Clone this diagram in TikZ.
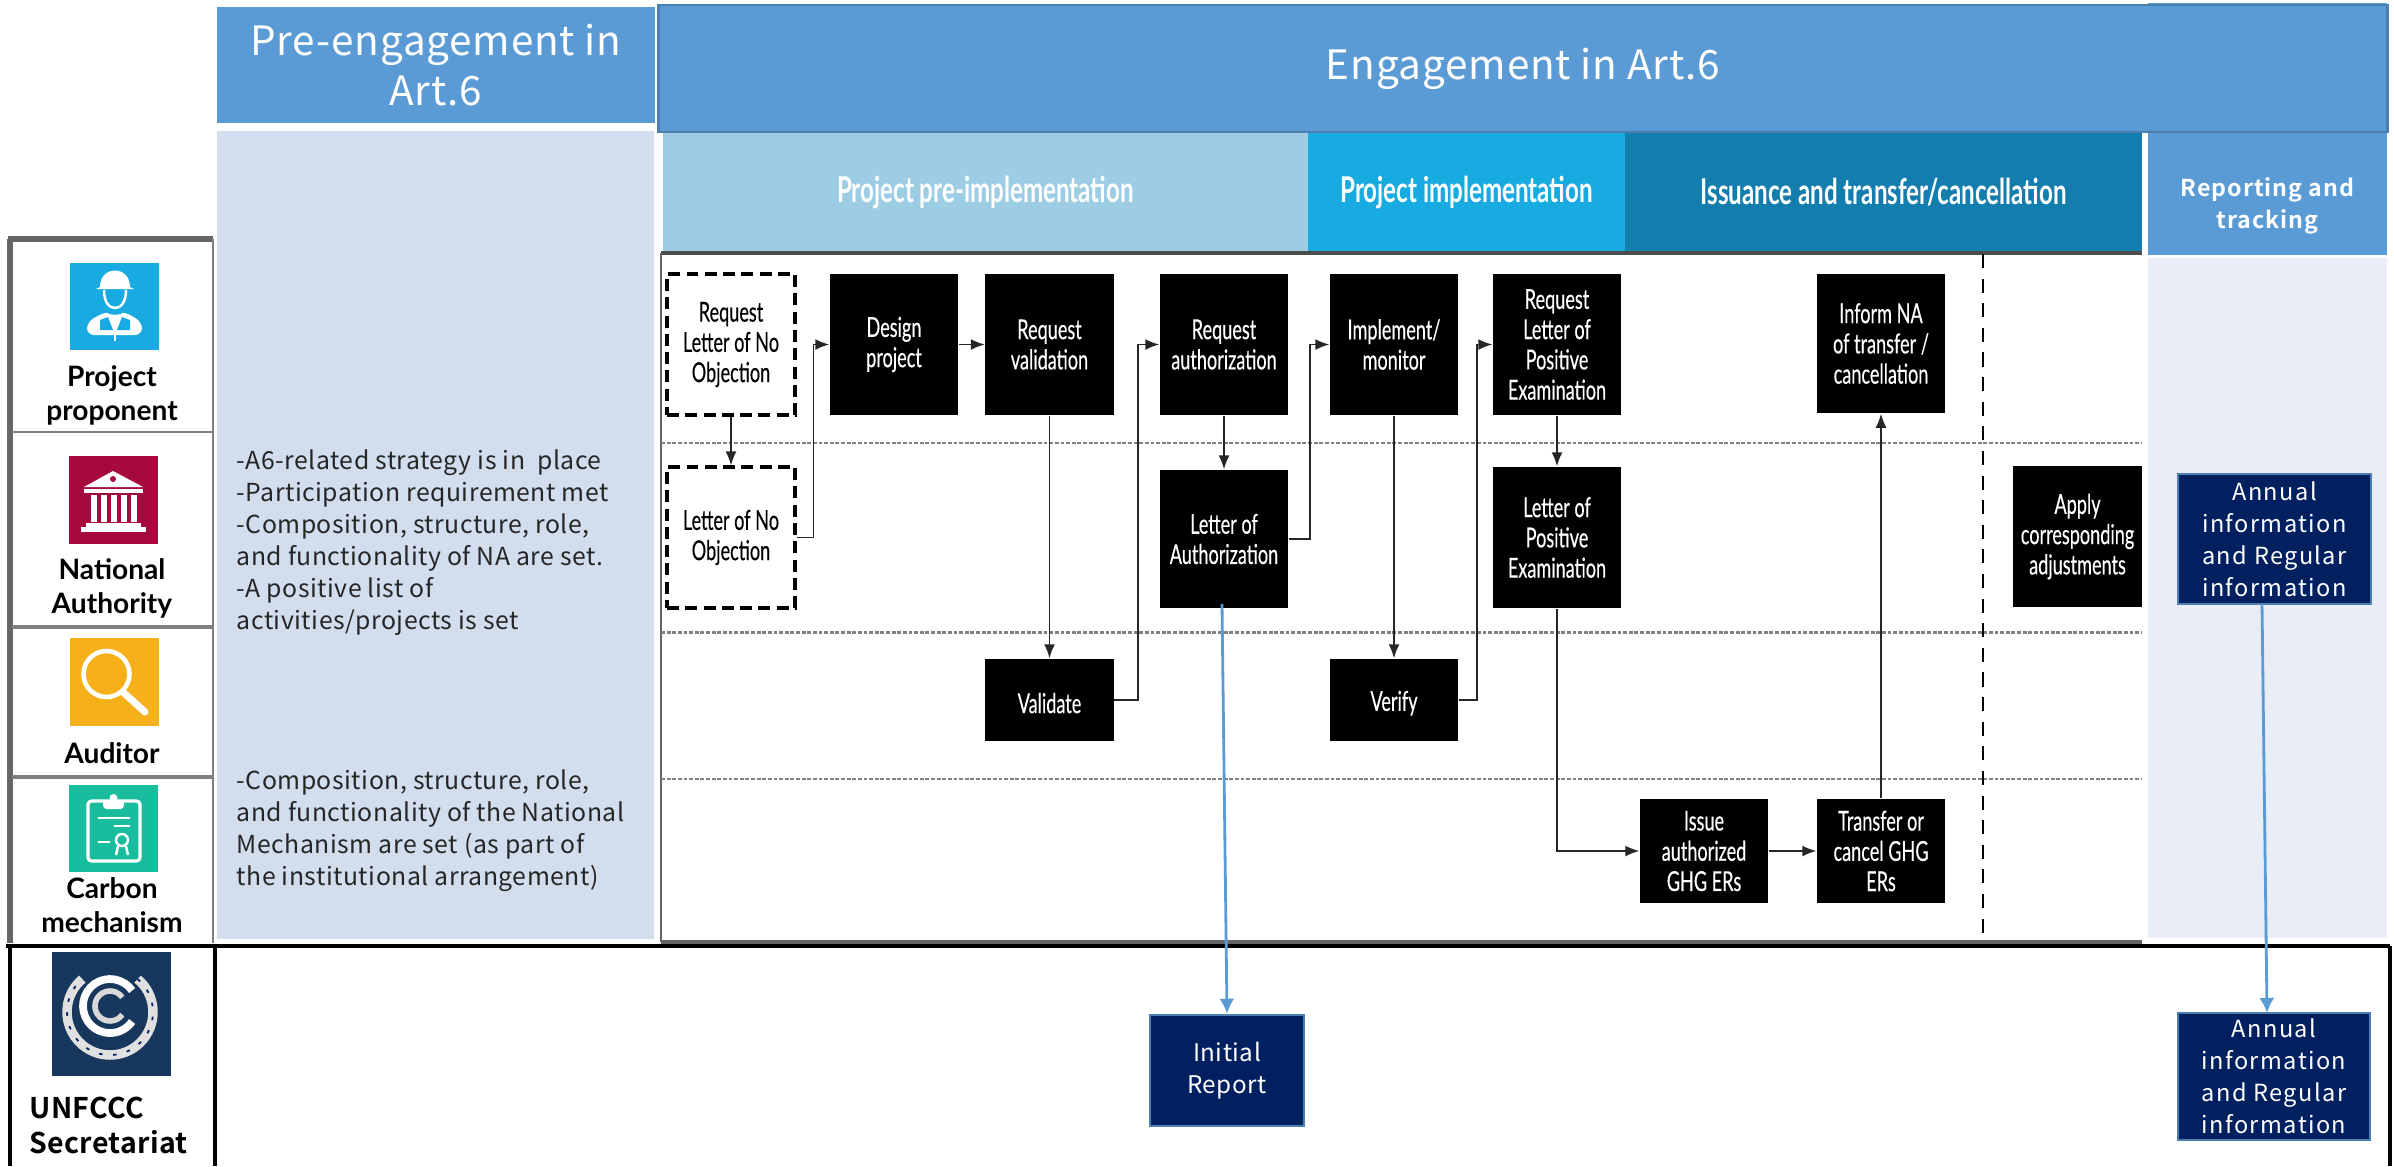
\documentclass[tikz,border=0pt]{standalone}
\usepackage{fontspec}
\usetikzlibrary{arrows.meta}
\setmainfont{Lato}
\newfontfamily\boxfont[FakeStretch=0.66,FakeBold=0.3]{Lato}
\newfontfamily\headfont[FakeStretch=0.68]{Lato Bold}
\newfontfamily\labfont{Lato Bold}
\newfontfamily\gothic[LetterSpace=2]{Noto Sans CJK JP}
\newfontfamily\gothicw[LetterSpace=6]{Noto Sans CJK JP}
\newfontfamily\gothicb[LetterSpace=1]{Noto Sans CJK JP Bold}
\newfontfamily\gothicr[LetterSpace=4]{Noto Sans CJK JP Bold}
\definecolor{hd}{HTML}{5B9BD5}
\definecolor{hdl}{HTML}{4A7FB0}
\definecolor{pale}{HTML}{D2DDEE}
\definecolor{paler}{HTML}{E9EDF6}
\definecolor{navy}{HTML}{002060}
\definecolor{hpre}{HTML}{9DCDE4}
\definecolor{himp}{HTML}{17ABE2}
\definecolor{hiss}{HTML}{137DAD}
\definecolor{iauth}{HTML}{A60A3D}
\definecolor{iaud}{HTML}{F5B01A}
\definecolor{icar}{HTML}{19BC9C}
\definecolor{iun}{HTML}{18375C}
\tikzset{bk/.append style={fill=black,text=white,inner sep=0,align=center,minimum width=1.28cm,minimum height=1.41cm,font=\boxfont\fontsize{7.8}{8.6}\selectfont,execute at begin node={\rule{0pt}{7.5pt}}}}
\tikzset{gg/.append style={draw=black,line width=0.9pt,dash pattern=on 3.4pt off 1.8pt,fill=none,text=black}}
\tikzset{nv/.append style={fill=navy,draw=hdl,line width=0.7pt,text=white,inner sep=0,align=center,font=\gothicw\fontsize{6.7}{9.1}\selectfont}}
\tikzset{bar/.append style={inner sep=0,align=center,text=white}}
\tikzset{hb/.append style={bar,minimum height=1.19cm,font=\headfont\fontsize{10.1}{11}\selectfont}}
\tikzset{ar/.append style={draw=black!85,line width=0.45pt,-{Latex[length=0.14cm,width=0.11cm]}}}
\tikzset{blu/.append style={draw=hd,line width=0.8pt,-{Latex[length=0.15cm,width=0.15cm]}}}
\tikzset{rw/.append style={draw=black!50,line width=0.8pt,dash pattern=on 1.1pt off 0.5pt}}
\tikzset{lab/.append style={inner sep=0,align=center,font=\labfont\fontsize{8}{9.7}\selectfont}}
\tikzset{ic/.append style={inner sep=0,minimum width=0.89cm,minimum height=0.87cm}}
\tikzset{note/.append style={inner sep=0,align=left,anchor=north west,text=black!85,font=\gothic\fontsize{7.05}{9.1}\selectfont}}

\begin{document}
\begin{tikzpicture}[x=0.01cm,y=-0.01cm]
                \useasboundingbox (0,0) rectangle (2394,1166);
                % column heads
                \node[bar,fill=hd,minimum width=4.38cm,minimum height=1.16cm,font=\gothic\fontsize{11.5}{14.2}\selectfont] (pre) at (436,65) {Pre-engagement in\\Art.6};
                \node[bar,fill=pale,minimum width=4.37cm,minimum height=8.08cm,text=black] (prep) at (435.5,535) {};
                \node[bar,fill=hd,minimum width=2.39cm,minimum height=0.5cm] (rept) at (2267.5,28) {};
                \node[bar,fill=hd,draw=hdl,line width=0.6pt,minimum width=17.28cm,minimum height=1.27cm,font=\gothic\fontsize{11.5}{14.2}\selectfont] (eng) at (1523,68.5) {\raisebox{-0.8pt}{Engagement in Art.6}};
                \node[bar,fill=hd,minimum width=2.39cm,minimum height=1.22cm] (rep) at (2267.5,194) {};
                \node[bar,font=\gothicr\fontsize{6.6}{9.1}\selectfont] (rept2) at (2267.5,206) {Reporting and\\tracking};
                \node[bar,fill=paler,minimum width=2.39cm,minimum height=6.8cm] (repb) at (2267.5,598) {};
                \node[hb,fill=hpre,minimum width=6.45cm] (h1) at (985.5,192.5) {Project pre-implementation};
                \node[hb,fill=himp,minimum width=3.17cm] (h2) at (1466.5,192.5) {Project implementation};
                \node[hb,fill=hiss,minimum width=5.17cm] (h3) at (1883.5,192.5) {Issuance and transfer/cancellation};
                % swimlane frame
                \draw[black!70,line width=1.1pt] (661,253) -- (2142,253);
                \draw[black!60,line width=1.4pt] (661,942) -- (2142,942);
                \draw[black!60,line width=0.5pt] (661,253) -- (661,942);
                \draw[rw] (661,443) -- (2142,443);
                \draw[rw] (661,632.5) -- (2142,632.5);
                \draw[rw] (661,779) -- (2142,779);
                \draw[black,line width=0.8pt,dash pattern=on 4pt off 3pt] (1983,254) -- (1983,937);
                % left column
                \draw[black!60,line width=1.6pt] (10,239) -- (10,943);
                \draw[black!60,line width=1.6pt] (8,239) -- (213,239);
                \draw[black!50,line width=0.7pt] (213,239) -- (213,943);
                \draw[black!50,line width=0.7pt] (12,432) -- (213,432);
                \draw[black!50,line width=0.9pt] (12,627) -- (213,627);
                \draw[black!50,line width=0.9pt] (12,777) -- (213,777);
                % bottom frame
                \draw[black,line width=1.4pt] (6,946) -- (2390,946);
                \draw[black,line width=1.2pt] (10,946) -- (10,1166);
                \draw[black,line width=1.0pt] (215,946) -- (215,1166);
                \draw[black,line width=1.2pt] (2390,946) -- (2390,1166);
                % actors
                \node[ic,fill=himp] (ipp) at (114.5,306.5) {};
                \fill[white] (100,287) .. controls (100,265) and (130,265) .. (130,287) -- (134,289) -- (96,289) -- cycle;
                \draw[white,line width=0.7pt] (104,290) .. controls (104,302) and (109,308) .. (115,308) .. controls (121,308) and (126,302) .. (126,290);
                \fill[white,rounded corners=2pt] (87,335) -- (87,322) -- (105,312) -- (125,312) -- (142,322) -- (142,335) -- cycle;
                \fill[himp] (105,311) .. controls (109,316) and (121,316) .. (125,311) -- cycle;
                \fill[himp] (100,320) -- (108,317) -- (113,330) -- (100,330) -- cycle;
                \fill[himp] (130,320) -- (122,317) -- (117,330) -- (130,330) -- cycle;
                \draw[white,line width=0.7pt] (115,325) -- (115,341);
                \node[ic,fill=iauth] (ina) at (113.5,500) {};
                \fill[white] (113,471) -- (143,487) -- (84,487) -- cycle;
                \fill[iauth] (113,479) circle (3);
                \fill[white] (84,489) rectangle (143,493);
                \foreach \cx in {91,101,111,121,131} {\fill[white] (\cx,495) rectangle ++(6,27);}
                \fill[white] (86,523) rectangle (141,527);
                \fill[white] (81,527) rectangle (146,532);
                \node[ic,fill=iaud] (iau) at (114.5,682) {};
                \draw[white,line width=1.3pt] (106.5,674) circle (23);
                \draw[white,line width=2pt,line cap=round] (124,693) -- (145,712);
                \node[ic,fill=icar] (ica) at (113.5,828.5) {};
                \draw[white,line width=0.9pt,rounded corners=1pt] (88,801) rectangle (140,861);
                \fill[white,rounded corners=1pt] (103,800) rectangle (124,809);
                \fill[white] (113.5,798) circle (4);
                \draw[white,line width=0.7pt] (98,818) -- (130,818);
                \draw[white,line width=0.7pt] (114,826) -- (130,826);
                \draw[white,line width=0.7pt] (98,842) -- (110,842);
                \draw[white,line width=0.7pt] (122,840) circle (6);
                \draw[white,line width=0.7pt] (118,846) -- (116,855);
                \draw[white,line width=0.7pt] (126,846) -- (128,855);
                \node[ic,fill=iun,minimum width=1.19cm,minimum height=1.24cm] (iun) at (111.5,1014) {};
                \draw[black!12,line width=2.7pt] (110,1012) ++(-50:43) arc[start angle=-50,end angle=230,radius=43];
                \draw[navy,line width=0.5pt,dash pattern=on 1pt off 3pt] (110,1012) ++(-50:43) arc[start angle=-50,end angle=230,radius=43];
                \draw[white,line width=2.2pt] (110,1006) ++(-35:27) arc[start angle=-35,end angle=-325,radius=27];
                \draw[black!15,line width=1.6pt] (110,1006) ++(-35:15) arc[start angle=-35,end angle=-325,radius=15];
                \node[lab] (lpp) at (112,395) {Project\\proponent};
                \node[lab] (lna) at (112,588) {National\\Authority};
                \node[lab] (lau) at (112,753) {Auditor};
                \node[lab] (lca) at (112,905) {Carbon\\mechanism};
                \node[lab,align=left,anchor=west,font=\gothicb\fontsize{8.1}{10}\selectfont] (lun) at (29,1125.5) {UNFCCC\\Secretariat};
                % notes
                \node[note] (na) at (236,449) {-A6-related strategy is in\ \ place\\-Participation requirement met\\-Composition, structure, role,\\and functionality of NA are set.\\-A positive list of\\activities/projects is set};
                \node[note] (nb) at (236,769) {-Composition, structure, role,\\and functionality of the National\\Mechanism are set (as part of\\the institutional arrangement)};
                % flow
                \node[bk,gg] (rlno) at (731,344.5) {Request\\Letter of No\\Objection};
                \node[bk,gg] (lno) at (731,537.5) {Letter of No\\Objection};
                \node[bk] (design) at (894,344.5) {Design\\project};
                \node[bk] (rval) at (1049.5,344.5) {Request\\validation};
                \node[bk] (val) at (1049.5,700) [minimum height=0.82cm] {Validate};
                \node[bk] (raut) at (1224,344.5) {Request\\authorization};
                \node[bk] (loa) at (1224,539) [minimum height=1.38cm] {Letter of\\Authorization};
                \node[bk] (impl) at (1394,344.5) {Implement/\\monitor};
                \node[bk] (ver) at (1394,700) [minimum height=0.82cm] {Verify};
                \node[bk] (rlop) at (1557,344.5) {Request\\Letter of\\Positive\\Examination};
                \node[bk] (lop) at (1557,537.5) {Letter of\\Positive\\Examination};
                \node[bk] (inf) at (1881,343.5) [minimum height=1.39cm] {Inform NA\\of transfer /\\cancellation};
                \node[bk] (iss) at (1704,851) [minimum height=1.04cm] {Issue\\authorized\\GHG ERs};
                \node[bk] (tra) at (1881,851) [minimum height=1.04cm] {Transfer or\\cancel GHG\\ERs};
                \node[bk] (app) at (2077.5,536.5) [minimum width=1.29cm] {Apply\\corresponding\\adjustments};
                \node[nv,minimum width=1.93cm,minimum height=1.3cm] (ana) at (2274.5,539) {Annual\\information\\and Regular\\information};
                \node[nv,minimum width=1.92cm,minimum height=1.27cm] (anb) at (2274,1076.5) {Annual\\information\\and Regular\\information};
                \node[nv,minimum width=1.54cm,minimum height=1.11cm,font=\gothic\fontsize{6.9}{9.1}\selectfont] (ini) at (1227,1070.5) {Initial\\Report};
                \path (rlno) edge[ar] (lno);
                \path (design) edge[ar] (rval);
                \path (rval) edge[ar] (val);
                \path (raut) edge[ar] (loa);
                \path (impl) edge[ar] (ver);
                \path (rlop) edge[ar] (lop);
                \path (iss) edge[ar] (tra);
                \path (tra) edge[ar] (inf);
                \draw[ar] (lno.east) -- ++(17,0) |- (design.west);
                \draw[ar] (val.east) -- ++(24,0) |- (raut.west);
                \draw[ar] (loa.east) -- ++(21,0) |- (impl.west);
                \draw[ar] (ver.east) -- ++(18,0) |- (rlop.west);
                \draw[ar] (lop.south) |- (iss.west);
                \coordinate (ba) at (1222,604);
                \coordinate (bb) at (2262,604);
                \coordinate (bc) at (2267,1013);
                \draw[blu] (ba) -- (ini.north);
                \draw[blu] (bb) -- (bc);
\end{tikzpicture}
\end{document}
